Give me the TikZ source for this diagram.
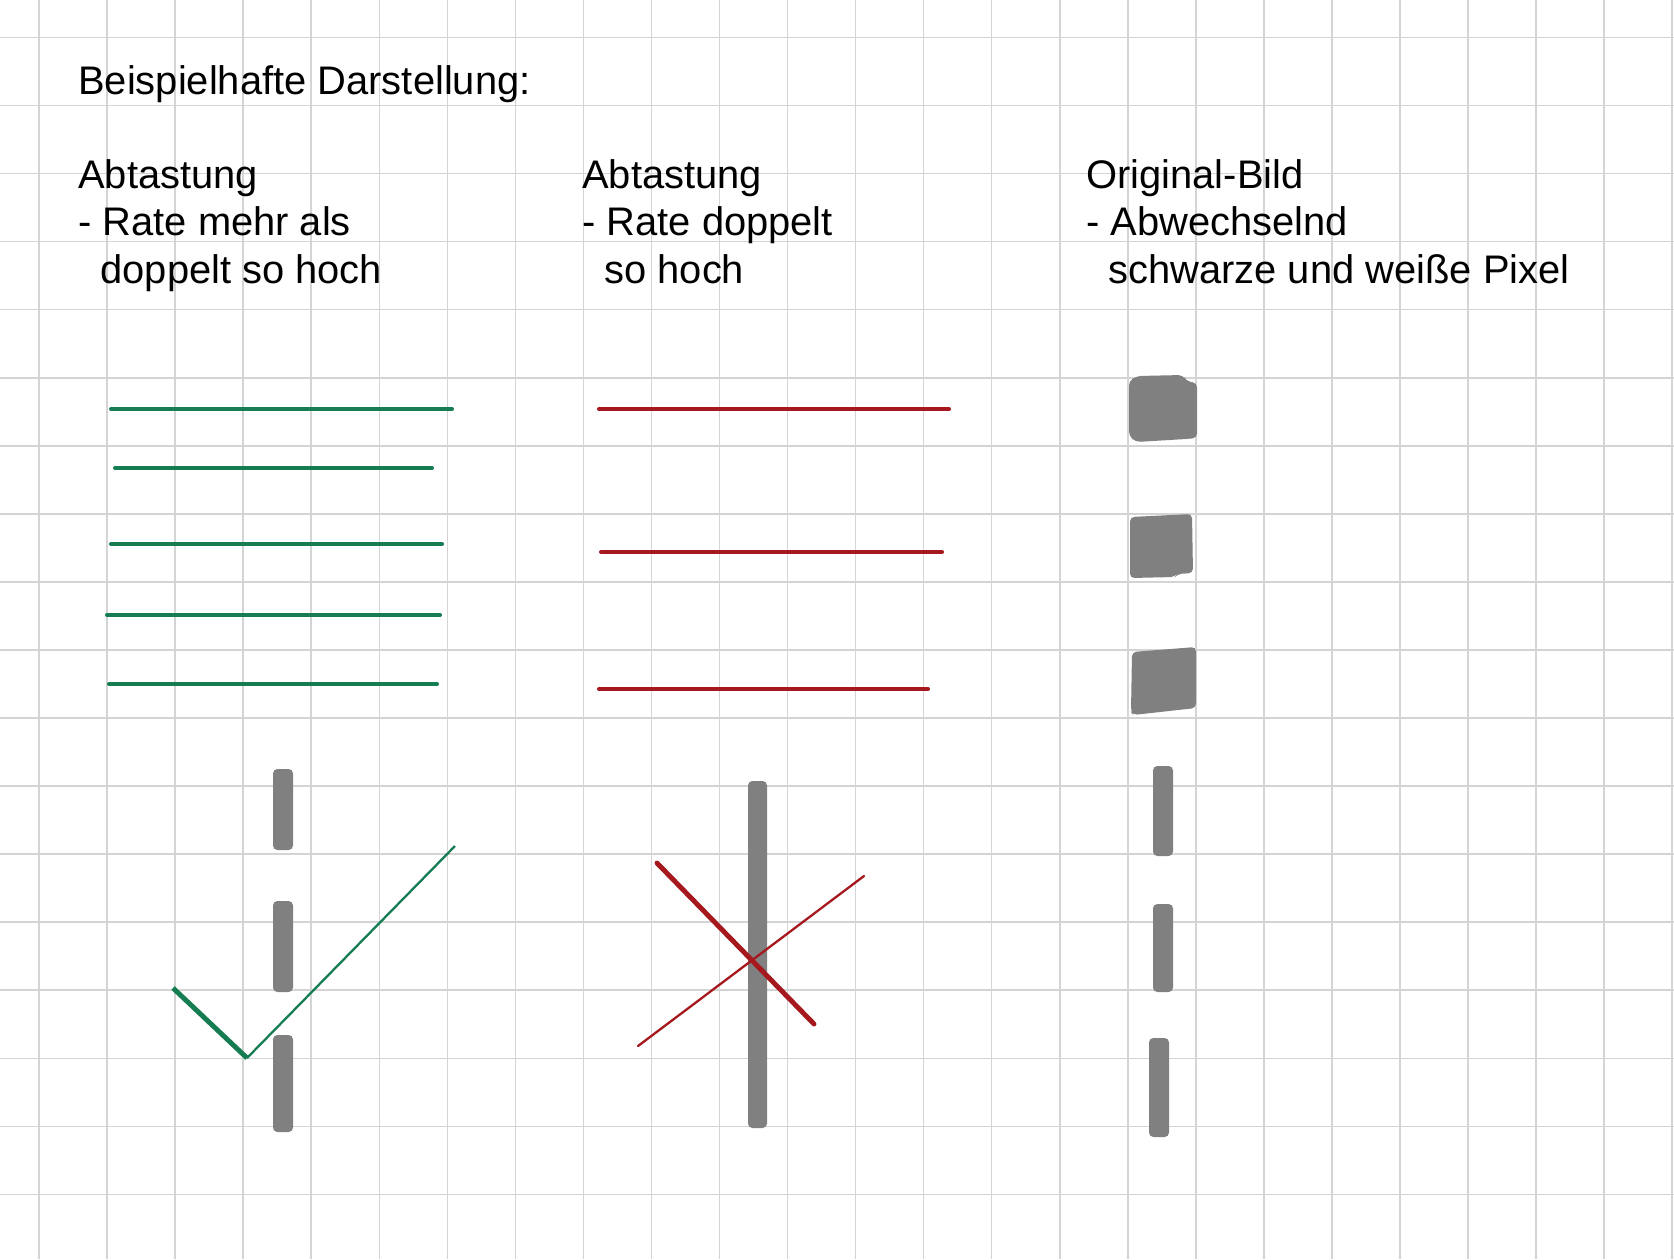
\documentclass[tikz,border=0pt]{standalone}
\usepackage{fontspec}
\setmainfont{Liberation Sans}
\usepackage{xcolor}
\usepackage{tikz}
\usetikzlibrary{positioning}
\definecolor{samplegreen}{RGB}{22, 124, 82}
\definecolor{samplered}{RGB}{165, 24, 30}
\definecolor{pixelgray}{RGB}{128, 128, 128}
\definecolor{papergrid}{RGB}{212, 212, 212}

\begin{document}
\begin{tikzpicture}[
    x=0.02cm, y=-0.02cm,
    gridline/.style = {draw=papergrid, line width=0.85pt},
    caption/.style  = {anchor=base west, inner sep=0pt, align=left,
                       font=\fontsize{22.7}{26.9}\selectfont},
    scanok/.style   = {draw=samplegreen, line width=2.3pt, line cap=round},
    scanbad/.style  = {draw=samplered, line width=2.3pt, line cap=round},
    pixel/.style    = {fill=pixelgray, rounded corners=2.5pt},
    markthick/.style = {line width=2.8pt},
    markthin/.style  = {line width=1.3pt},
  ]

  %% Paper and grid
  \useasboundingbox (0,0) rectangle (1674,1259);
  \fill[white] (0,0) rectangle (1674,1259);
  \foreach \i in {0,...,24}
    \draw[gridline] ({39+68.05*\i},0) -- ++(0,1259);
  \foreach \j in {0,...,17}
    \draw[gridline] (0,{37.5+68.05*\j}) -- ++(1674,0);

  %% Texts (base = last line)
  \node[caption] (title) at (78,94) {Beispielhafte Darstellung:};
  \node[caption] (more)  at (78,283)
    {Abtastung\\- Rate mehr als\\\ \ doppelt so hoch};
  \node[caption] (twice) at (582,283)
    {Abtastung\\- Rate doppelt\\\ \ so hoch};
  \node[caption] (orig)  at (1086,283)
    {Original-Bild\\- Abwechselnd\\\ \ schwarze und weiße Pixel};

  %% Sampling lines, more than twice
  \draw[scanok] (111,409) -- (452,409);
  \draw[scanok] (115,468) -- (432,468);
  \draw[scanok] (111,544) -- (442,544);
  \draw[scanok] (107,615) -- (440,615);
  \draw[scanok] (109,684) -- (437,684);

  %% Sampling lines, twice
  \draw[scanbad] (599,409) -- (949,409);
  \draw[scanbad] (601,552) -- (942,552);
  \draw[scanbad] (599,689) -- (928,689);

  %% Original pixels
  \fill[pixel] (1129,381) -- (1137,376) -- (1183,375) -- (1186,381)
    -- (1197,383) -- (1197,438) -- (1186,439) -- (1136,442) -- (1129,436) -- cycle;
  \fill[pixel] (1130,517) -- (1192,514) -- (1193,573) -- (1177,574)
    -- (1175,577) -- (1130,578) -- cycle;
  \fill[pixel] (1132,652) -- (1196,647) -- (1196,708) -- (1133,715)
    -- (1131,712) -- cycle;

  %% Reconstructed signals
  \fill[pixel] (273,769) rectangle (293,850);
  \fill[pixel] (273,901) rectangle (293,992);
  \fill[pixel] (273,1035) rectangle (293,1132);
  \fill[pixel] (748,781) rectangle (767,1128);
  \fill[pixel] (1153,766) rectangle (1173,856);
  \fill[pixel] (1153,904) rectangle (1173,992);
  \fill[pixel] (1149,1038) rectangle (1169,1137);

  %% Check mark
  \coordinate (okstart) at (173,988);
  \coordinate (okfoot)  at (247,1058);
  \coordinate (oktip)   at (455,846);
  \draw[samplegreen, markthick] (okstart) -- (okfoot);
  \draw[samplegreen, markthin]  (okfoot) -- (oktip);

  %% Cross
  \coordinate (xa) at (657,863);
  \coordinate (xb) at (814,1024);
  \coordinate (xc) at (638,1046);
  \coordinate (xd) at (864,876);
  \draw[samplered, markthick, line cap=round] (xa) -- (xb);
  \draw[samplered, markthin, line cap=round]  (xc) -- (xd);

\end{tikzpicture}
\end{document}
